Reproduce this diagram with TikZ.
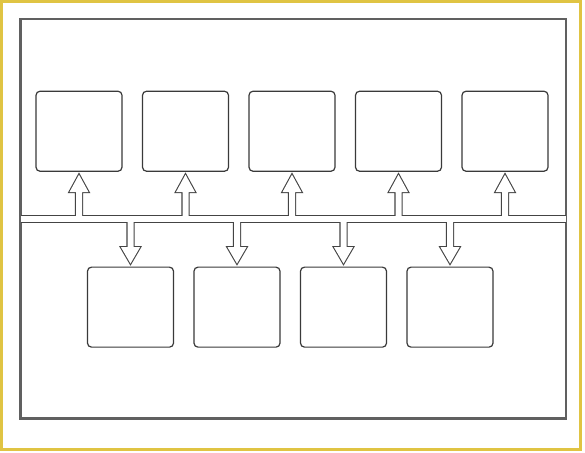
\documentclass[tikz,border=0pt]{standalone}
\usetikzlibrary{calc}
\definecolor{goldbd}{HTML}{E0C443}
\definecolor{boxln}{HTML}{3A3A3A}
\definecolor{frameln}{HTML}{606060}
\definecolor{arrln}{HTML}{444444}
\tikzset{
  x=1pt,y=1pt,
  tbox/.style={draw=boxln,line width=1.2pt,rounded corners=4pt,minimum width=86pt,minimum height=80pt,inner sep=0pt,fill=white},
  bandstroke/.style={draw=arrln,line width=2.2pt,line join=miter},
  bandfill/.style={fill=white,draw=none}
}
\begin{document}
\begin{tikzpicture}
\useasboundingbox (0,0) rectangle (585,452);
\fill[white] (0,0) rectangle (585,452);
% gold border
\draw[goldbd,line width=3pt] (1.5,2.5) rectangle (580,450.5);
% outer frame
\node[draw=frameln,line width=1.6pt,minimum width=545pt,minimum height=399pt,inner sep=0pt,anchor=south west] (frame) at (20,33) {};
% top boxes
\foreach \i/\x in {1/79,2/185.5,3/292,4/398.5,5/505}{
  \node[tbox] (t\i) at (\x,320.75) {};
}
% bottom boxes
\foreach \i/\x in {1/130.5,2/237,3/343.5,4/450}{
  \node[tbox] (b\i) at (\x,144.85) {};
}
% timeline band and arrows (union outline)
\coordinate (bandL) at (frame.west |- 0,233);
\coordinate (bandR) at (frame.east |- 0,233);
\def\bandshape{($(bandL)+(0,-3.3)$) rectangle ($(bandR)+(0,3.3)$)}
\def\uparr#1{($(#1.south)+(0,-2.8)$) -- ++(9.5,-17.4) -- ++(-6.5,0) -- ++(0,-27.3) -- ++(-6,0) -- ++(0,27.3) -- ++(-6.5,0) -- cycle}
\def\dnarr#1{($(#1.north)+(0,3)$) -- ++(9.5,16.3) -- ++(-6.5,0) -- ++(0,28.7) -- ++(-6,0) -- ++(0,-28.7) -- ++(-6.5,0) -- cycle}
\begin{scope}
  \clip (frame.south west) rectangle (frame.north east);
  \path[bandstroke] \bandshape;
  \foreach \n in {t1,t2,t3,t4,t5}{ \path[bandstroke] \uparr{\n}; }
  \foreach \n in {b1,b2,b3,b4}{ \path[bandstroke] \dnarr{\n}; }
  \path[bandfill] \bandshape;
  \foreach \n in {t1,t2,t3,t4,t5}{ \path[bandfill] \uparr{\n}; }
  \foreach \n in {b1,b2,b3,b4}{ \path[bandfill] \dnarr{\n}; }
\end{scope}
% redraw frame on top
\draw[frameln,line width=1.6pt] (frame.south west) rectangle (frame.north east);
\end{tikzpicture}
\end{document}
